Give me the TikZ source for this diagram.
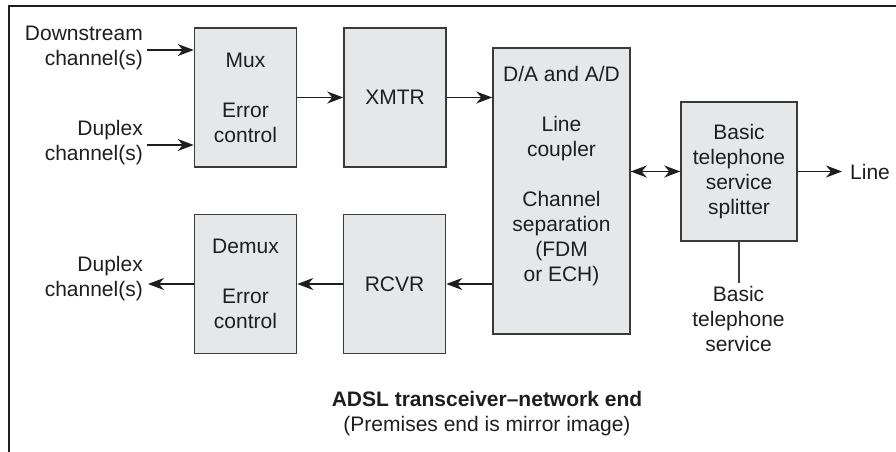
\documentclass[tikz,border=0pt]{standalone}
\usepackage{fontspec}
\setmainfont{Liberation Sans}
\usetikzlibrary{arrows.meta,positioning}
\definecolor{boxgray}{HTML}{E6E7E9}
\definecolor{edgegray}{HTML}{3A3A3A}
\definecolor{inkgray}{HTML}{1E1E1E}

\begin{document}
\begin{tikzpicture}[x=1pt,y=-1pt,font=\fontsize{21}{25}\selectfont]
  \tikzstyle{block}=[draw=edgegray,line width=1.5pt,fill=boxgray,text=inkgray,minimum width=102pt,minimum height=139pt,align=center,inner sep=0pt];
  \tikzstyle{lbl}=[align=center,inner sep=0pt,text=inkgray];
  \tikzstyle{arr}=[line width=1.6pt,draw=inkgray,-{Stealth[length=16pt,width=12pt,inset=5pt]}];
  \tikzstyle{dblarr}=[line width=1.6pt,draw=inkgray,{Stealth[length=16pt,width=12pt,inset=5pt]}-{Stealth[length=16pt,width=12pt,inset=5pt]}];

  \useasboundingbox (0,0) rectangle (896,452);

  % frame
  \draw [line width=2.4pt,inkgray] (9,452) -- (9,6) -- (896,6);

  % transmit row
  \node[block] (mux) at (245.5,97.5) {Mux\\[25pt]Error\\control};
  \node[block] (xmtr) at (395,97.5) {XMTR};

  % receive row
  \node[block] (demux) at (245.5,284) {Demux\\[25pt]Error\\control};
  \node[block] (rcvr) at (394.5,284) {RCVR};

  % line side
  \node[block,minimum width=137pt,minimum height=286pt] (da) at (561.5,191) {};
  \node[lbl] (datext) at (561.5,176) {D/A and A/D\\[25pt]Line\\coupler\\[25pt]Channel\\separation\\(FDM\\or ECH)};
  \node[block,minimum width=116pt] (split) at (739,171.5) {Basic\\telephone\\service\\splitter};
  \node[lbl,anchor=west] (line) at (850,171.5) {Line};
  \node[lbl,anchor=north,inner sep=3pt] (bts) at (738.5,283) {Basic\\telephone\\service};

  % user side channels
  \node[lbl,align=right,anchor=east] (dstext) at (143,48) {Downstream\\channel(s)};
  \node[lbl,align=right,anchor=east] (dxtext) at (143,143) {Duplex\\channel(s)};
  \node[lbl,align=right,anchor=east] (dotext) at (143,279) {Duplex\\channel(s)};
  \coordinate (dsin) at (147,50);
  \coordinate (dxin) at (147,145);
  \coordinate (dxout) at (148,284);

  % arrows
  \draw [arr] (dsin) -- (dsin -| mux.west);
  \draw [arr] (dxin) -- (dxin -| mux.west);
  \draw [arr] (mux) -- (xmtr);
  \draw [arr] (xmtr.east) -- (xmtr.east -| da.west);
  \draw [arr] (rcvr.east -| da.west) -- (rcvr.east);
  \draw [arr] (rcvr) -- (demux);
  \draw [arr] (demux.west) -- (dxout);
  \draw [dblarr] (da.east |- split.west) -- (split.west);
  \draw [arr,shorten >=8pt] (split) -- (line);
  \draw [line width=1.3pt,edgegray] (split.south) -- (split.south |- bts.north);

  % caption
  \node[lbl] (capt) at (487,399) {\textbf{ADSL transceiver--network end}};
  \node[lbl] (capsub) at (487,426) {(Premises end is mirror image)};
\end{tikzpicture}
\end{document}
